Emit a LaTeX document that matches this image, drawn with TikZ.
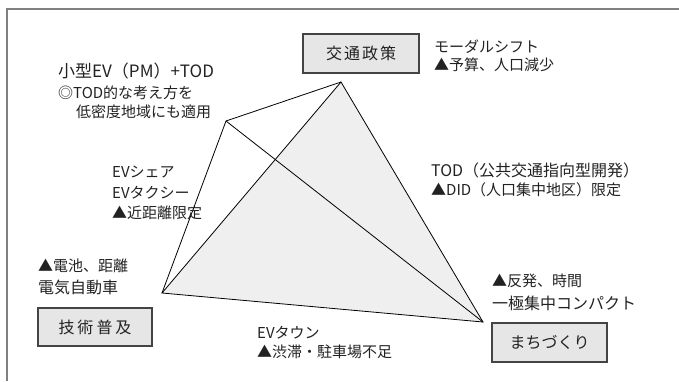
\documentclass[tikz,border=0pt]{standalone}
\usepackage{fontspec}
\setmainfont{Noto Sans CJK JP}
\definecolor{txt}{HTML}{222222}
\definecolor{trifill}{HTML}{EFEFEF}
\definecolor{boxfill}{HTML}{E6E6E6}
\definecolor{boxline}{HTML}{444444}
\definecolor{framec}{HTML}{808080}
\begin{document}
\begin{tikzpicture}[x=1pt,y=-1pt,
  lbl/.style={anchor=west,inner sep=0pt,text=txt,font=\fontsize{15}{18}\selectfont},
  lblw/.style={lbl,font=\fontsize{16}{19}\selectfont},
  big/.style={lbl,font=\fontsize{17}{20}\selectfont},
  box/.style={draw=boxline,line width=1.2pt,fill=boxfill,text=txt,inner sep=0pt,font=\fontsize{16}{19}\selectfont},
  edge/.style={draw=black,line width=0.8pt},
  tri/.style={fill=trifill},
  frame/.style={draw=framec,line width=2pt}]
\useasboundingbox (0,0) rectangle (679,381);
\draw[frame] (7,381) -- (7,9) -- (679,9);
% triangle vertices
\coordinate (T) at (341,82);
\coordinate (L) at (162,293);
\coordinate (R) at (483,322);
\coordinate (P) at (226,121);
\fill[tri] (T) -- (L) -- (R) -- cycle;
\draw[edge] (T) -- (L) -- (R) -- cycle;
\draw[edge] (P) -- (T);
\draw[edge] (P) -- (L);
\draw[edge] (P) -- (R);
% boxes
\node[box,minimum width=116,minimum height=39] (kotsu) at (361,53.5) {交\hspace{2pt}通\hspace{2pt}政\hspace{2pt}策};
\node[box,minimum width=114,minimum height=38] (gijutsu) at (95,327) {技\hspace{3pt}術\hspace{3pt}普\hspace{3pt}及};
\node[box,minimum width=115,minimum height=39] (machi) at (549.5,342.5) {まちづくり};
% labels
\node[lbl] (m1) at (434,47) {モーダルシフト};
\node[lbl] (m2) at (434,65) {▲予算、人口減少};
\node[big] (k1) at (58,71) {小型EV（PM）+TOD};
\node[lbl] (k2) at (58,93) {◎TOD的な考え方を};
\node[lbl] (k3) at (76,112) {低密度地域にも適用};
\node[lbl] (e1) at (112,172) {EVシェア};
\node[lbl] (e2) at (112,193) {EVタクシー};
\node[lbl] (e3) at (112,213) {▲近距離限定};
\node[lblw] (t1) at (431,170) {TOD（公共交通指向型開発）};
\node[lbl] (t2) at (431,190) {▲DID（人口集中地区）限定};
\node[lbl] (d1) at (38,266) {▲電池、距離};
\node[lblw] (d2) at (38,287) {電気自動車};
\node[lbl] (w1) at (257,333) {EVタウン};
\node[lbl] (w2) at (257,352) {▲渋滞・駐車場不足};
\node[lbl] (c1) at (492,281) {▲反発、時間};
\node[lblw] (c2) at (492,303) {一極集中コンパクト};
\end{tikzpicture}
\end{document}
